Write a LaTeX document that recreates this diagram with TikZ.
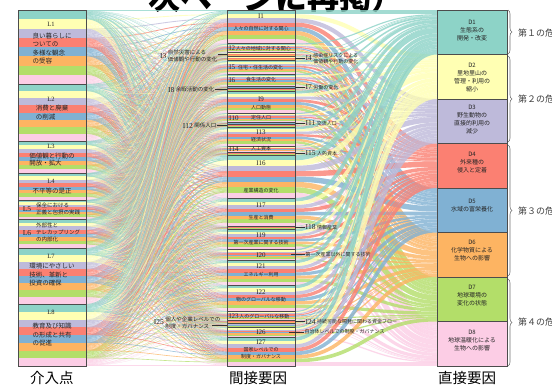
\documentclass[tikz,border=0pt]{standalone}
\usepackage{fontspec}
\setmainfont{Liberation Serif}
\newfontfamily\jp{Noto Sans CJK JP}
\usetikzlibrary{decorations.pathreplacing}
\definecolor{s1}{HTML}{8DD3C7}
\definecolor{s2}{HTML}{FFFFB3}
\definecolor{s3}{HTML}{BEBADA}
\definecolor{s4}{HTML}{FB8072}
\definecolor{s5}{HTML}{80B1D3}
\definecolor{s6}{HTML}{FDB462}
\definecolor{s7}{HTML}{B3DE69}
\definecolor{s8}{HTML}{FCCDE5}
\def\Llist{10/74,84/57,141/32,173/27,200/19,219/29,248/56,304/62}
\def\Ilist{10/33.5,43.5/9,52.5/4,56.5/4,60.5/13.5,74/12,86/2.5,88.5/2.5,91/22,113/9,122/2.5,124.5/2.5,127/19,146/6,152/3,155/43,198/28,226/3,229/20,249/11,260/25,285/26,311/9,320/3.5,323.5/3.5,327/10,337/29}
\def\Clist{0/s1,1/s2,2/s3,3/s4,4/s5,5/s6,6/s7,7/s8}
\begin{document}
\begin{tikzpicture}[x=1pt,y=-1pt,
  boxline/.style={draw=black!70, line width=0.8pt},
  lnum/.style={font=\fontsize{6.5}{7}\selectfont, inner sep=0pt, text=black!85},
  ltx/.style={font=\jp\fontsize{6.5}{8.5}\selectfont, inner sep=0pt, align=left, text=black!85},
  lsm/.style={font=\jp\fontsize{5.5}{7}\selectfont, inner sep=0pt, align=left, text=black!85},
  dtx/.style={font=\jp\fontsize{6}{8}\selectfont, inner sep=0pt, align=center, text=black!85},
  inum/.style={font=\fontsize{7}{8}\selectfont, inner sep=0pt, text=black!85},
  itx/.style={font=\jp\fontsize{5}{7}\selectfont, inner sep=0pt, align=center, text=black!85},
  pnum/.style={font=\fontsize{7.5}{8}\selectfont, inner sep=0.5pt, text=black!85},
  ptx/.style={font=\jp\fontsize{5}{6}\selectfont, inner sep=0.5pt, align=left, text=black!85},
  pltx/.style={font=\jp\fontsize{5.5}{7}\selectfont, inner sep=0.5pt, align=left, text=black!85},
  ptr/.style={draw=black!80, line width=0.8pt},
  bracestyle/.style={decorate, decoration={brace, amplitude=4pt}, draw=black!55, line width=0.6pt},
  btx/.style={font=\jp\fontsize{9}{10}\selectfont, inner sep=0pt, anchor=west, text=black!75},
  big/.style={font=\jp\fontsize{14.5}{16}\selectfont, inner sep=0pt}]
\clip (0,0) rectangle (552,389);
\fill[white] (0,0) rectangle (552,389);
% title (cropped)
\node[font=\jp\bfseries\fontsize{32}{34}\selectfont, anchor=base west, inner sep=0pt] (title) at (148,9) {次ページに再掲）};
% flows L -> I
\foreach \a/\hl in \Llist {
 \foreach \b/\hi in \Ilist {
  \pgfmathsetmacro\w{\hl*\hi/2848}
  \pgfmathsetmacro\ol{(\hl/8)*((\b-10)+\hi/2)/356}
  \pgfmathsetmacro\oi{(\hi/8)*((\a-10)+\hl/2)/356}
  \foreach \c/\col in \Clist {
   \pgfmathsetmacro\yl{\a+\c*\hl/8+\ol}
   \pgfmathsetmacro\yi{\b+\c*\hi/8+\oi}
   \draw[\col, line width=\w pt, draw opacity=.75] (86,\yl) .. controls (157,\yl) and (156,\yi) .. (227,\yi);
  }}}
% flows I -> D
\foreach \b/\hi in \Ilist {
 \foreach \c/\col in \Clist {
  \pgfmathsetmacro\w{\hi/8}
  \pgfmathsetmacro\yi{\b+(\c+0.5)*\hi/8}
  \pgfmathsetmacro\yd{10+\c*44.5+(\b-10+\hi/2)/8}
  \draw[\col, line width=\w pt, draw opacity=.8] (295,\yi) .. controls (366,\yi) and (366,\yd) .. (437,\yd);
 }}
% L boxes
\foreach \a/\hl in \Llist {
  \foreach \c/\col in \Clist { \fill[\col] (18,{\a+\c*\hl/8}) rectangle (86,{\a+(\c+1)*\hl/8}); }
  \draw[boxline] (18,\a) rectangle (86,{\a+\hl});
}
% I boxes
\foreach \b/\hi in \Ilist {
  \foreach \c/\col in \Clist { \fill[\col] (227,{\b+\c*\hi/8}) rectangle (295,{\b+(\c+1)*\hi/8}); }
  \draw[boxline] (227,\b) rectangle (295,{\b+\hi});
}
% D boxes
\foreach \c/\col in \Clist {
  \fill[\col, draw=black!70, line width=0.8pt] (437,{10+\c*44.5}) rectangle (507,{54.5+\c*44.5});
}
% L texts
\node[lnum] (L1n) at (51,24) {L1};
\node[ltx] (L1t) at (52,48.5) {良い暮らしに\\ついての\\多様な観念\\の受容};
\node[lnum] (L2n) at (51,99) {L2};
\node[ltx] (L2t) at (52,112.5) {消費と廃棄\\の削減};
\node[lnum] (L3n) at (51,146) {L3};
\node[ltx, font=\jp\fontsize{6.5}{7.5}\selectfont] (L3t) at (52,159.5) {価値観と行動の\\開放・拡大};
\node[lnum] (L4n) at (51,181) {L4};
\node[ltx] (L4t) at (52,191) {不平等の是正};
\node[lnum, font=\fontsize{7.5}{8}\selectfont] (L5n) at (27,209.5) {L5};
\node[lsm, anchor=west] (L5t) at (36,208.5) {保全における\\正義と包摂の実践};
\node[lnum, font=\fontsize{7.5}{8}\selectfont] (L6n) at (27,233) {L6};
\node[lsm, anchor=west] (L6t) at (36,232.5) {外部性と\\テレカップリング\\の内部化};
\node[lnum] (L7n) at (51,256) {L7};
\node[ltx] (L7t) at (52,275) {環境にやさしい\\技術、革新と\\投資の確保};
\node[lnum] (L8n) at (51,312) {L8};
\node[ltx] (L8t) at (52,335) {教育及び知識\\の形成と共有\\の促進};
% I texts
\node[inum] (I1n) at (261,16) {I1};
\node[itx] (I1t) at (261,29) {人々の自然に対する関心};
\node[itx, anchor=west] (I2t) at (229,48) {{\rmfamily\fontsize{7}{8}\selectfont I2}\,人々の地域に対する関心};
\node[itx, anchor=west] (I5t) at (229,67) {{\rmfamily\fontsize{7}{8}\selectfont I5}\hspace{3pt}住宅・住生活の変化};
\node[inum, anchor=west] (I6n) at (229,80) {I6};
\node[itx] (I6t) at (261,80) {食生活の変化};
\node[inum] (I9n) at (261,99) {I9};
\node[itx] (I9t) at (261,108) {人口動態};
\node[inum, anchor=west] (I10n) at (229,118) {I10};
\node[itx] (I10t) at (261,118) {定住人口};
\node[inum] (I13n) at (261,132) {I13};
\node[itx] (I13t) at (261,140) {経済状況};
\node[inum, anchor=west] (I14n) at (229,149) {I14};
\node[itx] (I14t) at (261,149) {人工資本};
\node[inum] (I16n) at (261,163) {I16};
\node[itx] (I16t) at (261,191) {産業構造の変化};
\node[inum] (I17n) at (261,205) {I17};
\node[itx] (I17t) at (261,218) {生産と消費};
\node[inum] (I19n) at (261,235) {I19};
\node[itx] (I19t) at (261,243) {第一次産業に関する技術};
\node[inum] (I20n) at (261,255) {I20};
\node[inum] (I21n) at (261,266) {I21};
\node[itx] (I21t) at (261,275) {エネルギー利用};
\node[inum] (I22n) at (261,292) {I22};
\node[itx] (I22t) at (261,300) {物のグローバルな移動};
\node[itx, anchor=west] (I23t) at (229,316) {{\rmfamily\fontsize{7}{8}\selectfont I23}\,人のグローバルな移動};
\node[inum] (I26n) at (261,332) {I26};
\node[inum] (I27n) at (261,342) {I27};
\node[itx] (I27t) at (261,353.5) {国家レベルでの\\制度・ガバナンス};
% right pointers
\coordinate (I4e) at (295,58.5);
\node[pnum, anchor=west] (I4l) at (305,58.5) {I4};
\node[ptx, anchor=west] (I4x) at (I4l.east) {感染症リスクによる\\価値観や行動の変化};
\draw[ptr] (I4e) -- (I4l.west);
\coordinate (I7e) at (295,87.25);
\node[pnum, anchor=west] (I7l) at (305,87.25) {I7};
\node[ptx, anchor=west] (I7x) at (I7l.east) {労働の変化};
\draw[ptr] (I7e) -- (I7l.west);
\coordinate (I11e) at (295,123.25);
\node[pnum, anchor=west] (I11l) at (305,123.25) {I11};
\node[ptx, anchor=west] (I11x) at (I11l.east) {交流人口};
\draw[ptr] (I11e) -- (I11l.west);
\coordinate (I15e) at (295,153.5);
\node[pnum, anchor=west] (I15l) at (305,153.5) {I15};
\node[ptx, anchor=west] (I15x) at (I15l.east) {人的資本};
\draw[ptr] (I15e) -- (I15l.west);
\coordinate (I18e) at (295,227.5);
\node[pnum, anchor=west] (I18l) at (305,227.5) {I18};
\node[ptx, anchor=west] (I18x) at (I18l.east) {情報産業};
\draw[ptr] (I18e) -- (I18l.west);
\coordinate (I20e) at (291,254.5);
\node[ptx, anchor=west] (I20x) at (305,254.5) {第一次産業以外に関する技術};
\draw[ptr] (I20e) -- (I20x.west);
\coordinate (I24e) at (295,321.75);
\node[pnum, anchor=west] (I24l) at (305,321.75) {I24};
\node[ptx, anchor=west] (I24x) at (I24l.east) {持続可能な開発に関わる資金フロー};
\draw[ptr] (I24e) -- (I24l.west);
\coordinate (I26e) at (289,332);
\node[ptx, anchor=west] (I26x) at (304,332) {自治体レベルでの制度・ガバナンス};
\draw[ptr] (I26e) -- (I26x.west);
% left pointers
\coordinate (I3w) at (227,54.5);
\node[pltx, anchor=east] (I3x) at (218,56) {自然災害による\\価値観や行動の変化};
\node[pnum, anchor=east] (I3l) at (I3x.west) {I3};
\draw[ptr] (I3x.east |- I3w) -- (I3w);
\coordinate (I8w) at (227,89.75);
\node[pltx, anchor=east] (I8x) at (215,89.75) {余暇活動の変化};
\node[pnum, anchor=east] (I8l) at (I8x.west) {I8};
\draw[ptr] (I8x.east) -- (I8w);
\coordinate (I12w) at (227,125.75);
\node[pltx, anchor=east] (I12x) at (217,125.75) {関係人口};
\node[pnum, anchor=east] (I12l) at (I12x.west) {I12};
\draw[ptr] (I12x.east) -- (I12w);
\coordinate (I25w) at (227,325.25);
\node[pltx, anchor=east, align=left] (I25x) at (221,322.5) {個人や企業レベルでの\\制度・ガバナンス};
\node[pnum, anchor=east] (I25l) at (I25x.west) {I25};
\coordinate (I25s) at (212,325.25);
\draw[ptr] (I25s) -- (I25w);
% D texts
\node[dtx] (D1t) at (472,30.5) {D1\\生態系の\\開発・改変};
\node[dtx] (D2t) at (472,77.5) {D2\\里地里山の\\管理・利用の\\縮小};
\node[dtx] (D3t) at (472,120) {D3\\野生動物の\\直接的利用の\\減少};
\node[dtx] (D4t) at (472,162.5) {D4\\外来種の\\侵入と定着};
\node[dtx] (D5t) at (472,206) {D5\\水域の富栄養化};
\node[dtx] (D6t) at (472,251) {D6\\化学物質による\\生物への影響};
\node[dtx] (D7t) at (472,296) {D7\\地球環境の\\変化の状態};
\node[dtx] (D8t) at (472,341) {D8\\地球温暖化による\\生物への影響};
% braces
\draw[bracestyle] (508,10) -- (508,54);
\draw[bracestyle] (508,56) -- (508,142);
\draw[bracestyle] (508,145) -- (508,276);
\draw[bracestyle] (508,279) -- (508,366);
\node[btx] (c1) at (518,33) {第１の危機};
\node[btx] (c2) at (518,99) {第２の危機};
\node[btx] (c3) at (518,211) {第３の危機};
\node[btx] (c4) at (518,322) {第４の危機};
% column labels
\node[big] (lab1) at (52,378) {介入点};
\node[big] (lab2) at (258,378) {間接要因};
\node[big] (lab3) at (467,378) {直接要因};
\end{tikzpicture}
\end{document}
